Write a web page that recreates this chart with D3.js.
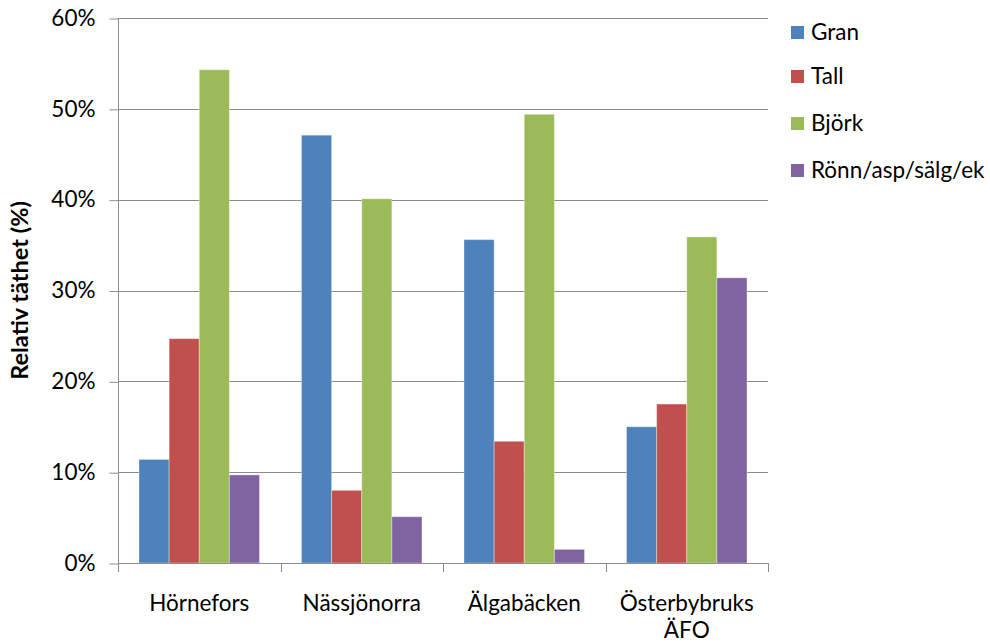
<!DOCTYPE html>
<html>
<head>
<meta charset="utf-8">
<script src="https://cdn.jsdelivr.net/npm/d3@7/dist/d3.min.js"></script>
<style>
  html, body { margin: 0; padding: 0; background: #fff; }
  svg { display: block; font-family: Lato, "Open Sans", sans-serif; }
</style>
</head>
<body>
<svg id="chart" width="990" height="644"></svg>
<script>
// Sites (categories) and tree species (series)
const sites = ["Hörnefors", "Nässjönorra", "Älgabäcken", "Österbybruks ÄFO"];
const species = ["Gran", "Tall", "Björk", "Rönn/asp/sälg/ek"];
const colors = ["#4f81bd", "#c0504d", "#9bbb59", "#8064a2"];

// Relative density (%) per species, in site order
const gran  = [11.4, 47.1, 35.6, 15.0];
const tall  = [24.7, 8.0, 13.4, 17.5];
const bjork = [54.3, 40.1, 49.4, 35.9];
const ronn  = [9.7, 5.1, 1.5, 31.4];
const seriesValues = [gran, tall, bjork, ronn];

const yTicks = [0, 10, 20, 30, 40, 50, 60];
const yTitle = "Relativ täthet (%)";

const FONT = 22.5;
const svg = d3.select("#chart");
const plot = { left: 118, right: 768, top: 18, bottom: 563 };

const x0 = d3.scaleBand().domain(sites).range([plot.left, plot.right])
  .paddingInner(0).paddingOuter(0);
const groupPad = 21;
const x1 = d3.scaleBand().domain(species)
  .range([groupPad, x0.bandwidth() - groupPad]).padding(0);
const y = d3.scaleLinear().domain([0, 60]).range([plot.bottom, plot.top]);

// Horizontal gridlines
svg.append("g")
  .selectAll("line")
  .data(yTicks.filter(d => d > 0))
  .join("line")
  .attr("x1", plot.left).attr("x2", plot.right)
  .attr("y1", d => Math.round(y(d)) + 0.5).attr("y2", d => Math.round(y(d)) + 0.5)
  .attr("stroke", "#8c8c8c").attr("stroke-width", 1);

// Bars
const groups = svg.append("g")
  .selectAll("g")
  .data(sites)
  .join("g")
  .attr("transform", d => `translate(${x0(d)},0)`);

groups.selectAll("rect")
  .data((site, i) => species.map((sp, j) => ({ sp, j, v: seriesValues[j][i] })))
  .join("rect")
  .attr("x", d => x1(d.sp))
  .attr("width", x1.bandwidth())
  .attr("y", d => y(d.v))
  .attr("height", d => y(0) - y(d.v))
  .attr("fill", d => colors[d.j])
  .attr("stroke", "rgba(255,255,255,0.35)")
  .attr("stroke-width", 1);

// Y axis
const yAxis = d3.axisLeft(y)
  .tickValues(yTicks)
  .tickFormat(d => d + "%")
  .tickSize(9)
  .tickPadding(14);
const gy = svg.append("g")
  .attr("transform", `translate(${plot.left + 0.5},0)`)
  .call(yAxis);
gy.select(".domain").attr("stroke", "#8c8c8c").attr("d", `M0,${plot.top}V${plot.bottom}`);
gy.selectAll(".tick line").attr("stroke", "#8c8c8c")
  .attr("transform", "translate(0,0.5)");
gy.selectAll(".tick text")
  .attr("font-size", FONT).attr("fill", "#000")
  .attr("font-family", "Lato, 'Open Sans', sans-serif");

// X axis line with boundary ticks between categories
const xa = svg.append("g");
xa.append("line")
  .attr("x1", plot.left).attr("x2", plot.right)
  .attr("y1", plot.bottom + 0.5).attr("y2", plot.bottom + 0.5)
  .attr("stroke", "#8c8c8c");
const bounds = sites.map(s => x0(s)).concat([plot.right]);
xa.selectAll("line.tk")
  .data(bounds)
  .join("line")
  .attr("class", "tk")
  .attr("x1", d => Math.round(d) + 0.5).attr("x2", d => Math.round(d) + 0.5)
  .attr("y1", plot.bottom).attr("y2", plot.bottom + 9)
  .attr("stroke", "#8c8c8c");

// Category labels (wrapping the long one onto two lines)
const labelLines = {
  "Österbybruks ÄFO": ["Österbybruks", "ÄFO"]
};
const xl = svg.append("g");
sites.forEach(s => {
  const lines = labelLines[s] || [s];
  const t = xl.append("text")
    .attr("x", x0(s) + x0.bandwidth() / 2)
    .attr("y", 611)
    .attr("text-anchor", "middle")
    .attr("font-size", FONT)
    .attr("fill", "#000");
  lines.forEach((ln, k) => {
    t.append("tspan")
      .attr("x", x0(s) + x0.bandwidth() / 2)
      .attr("dy", k === 0 ? 0 : 27)
      .text(ln);
  });
});

// Y axis title
svg.append("text")
  .attr("transform", `translate(28,${(plot.top + plot.bottom) / 2}) rotate(-90)`)
  .attr("text-anchor", "middle")
  .attr("font-size", 23.5)
  .attr("font-weight", "bold")
  .attr("fill", "#000")
  .text(yTitle);

// Legend
const legend = svg.append("g").attr("transform", "translate(791,0)");
const legendY = [32, 76, 123, 170];
species.forEach((sp, i) => {
  legend.append("rect")
    .attr("x", 0).attr("y", legendY[i] - 6)
    .attr("width", 13).attr("height", 13)
    .attr("fill", colors[i]);
  legend.append("text")
    .attr("x", 20).attr("y", legendY[i] + 8)
    .attr("font-size", FONT)
    .attr("fill", "#000")
    .text(sp);
});
</script>
</body>
</html>
